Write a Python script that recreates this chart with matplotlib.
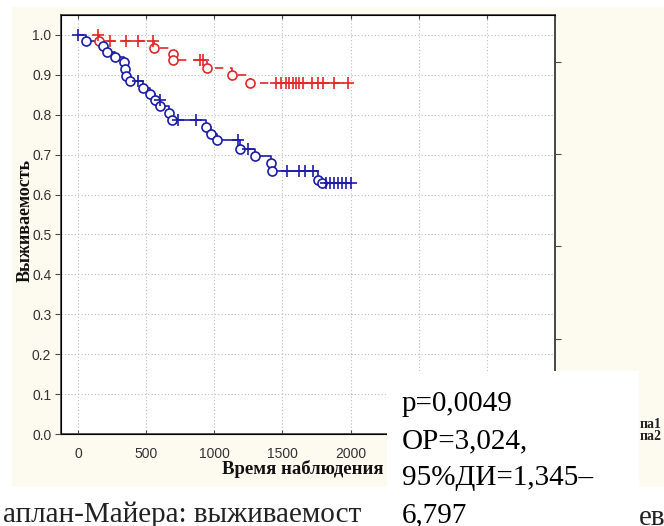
import matplotlib.pyplot as plt
from matplotlib.patches import Rectangle

# blue group: time, survival, censored flag (1 = "+", 0 = event circle)
blue_t = [0, 58, 181, 210, 270, 340, 348, 353, 380, 437, 478, 527, 564, 600, 605,
          668, 690, 730, 869, 942, 979, 1020, 1175, 1186, 1245, 1300, 1418, 1425,
          1535, 1620, 1665, 1723, 1760, 1790, 1820, 1850, 1880, 1910, 1940, 1970, 2000]
blue_s = [1.0, 0.986, 0.973, 0.957, 0.944, 0.931, 0.915, 0.898, 0.885, 0.885, 0.868,
          0.852, 0.838, 0.838, 0.821, 0.804, 0.786, 0.786, 0.786, 0.769, 0.752, 0.736,
          0.736, 0.715, 0.715, 0.696, 0.679, 0.658, 0.658, 0.658, 0.658, 0.658, 0.637,
          0.630, 0.630, 0.630, 0.630, 0.630, 0.630, 0.630, 0.630]
blue_c = [1, 0, 0, 0, 0, 0, 0, 0, 0, 1, 0, 0, 0, 1, 0, 0, 0, 1, 1, 0, 0, 0, 1, 0, 1, 0,
          0, 0, 1, 1, 1, 1, 0, 0, 1, 1, 1, 1, 1, 1, 1]

# red group
red_t = [144, 156, 234, 351, 441, 547, 556, 696, 700, 893, 916, 950, 1130, 1264,
         1450, 1486, 1523, 1547, 1575, 1601, 1625, 1650, 1718, 1760, 1801, 1877, 1984]
red_s = [1.0, 0.984, 0.984, 0.984, 0.984, 0.984, 0.968, 0.952, 0.9375, 0.9375, 0.9375,
         0.917, 0.9, 0.88, 0.88, 0.88, 0.88, 0.88, 0.88, 0.88, 0.88, 0.88, 0.88, 0.88,
         0.88, 0.88, 0.88]
red_c = [1, 0, 1, 1, 1, 1, 0, 0, 0, 1, 1, 0, 0, 0, 1, 1, 1, 1, 1, 1, 1, 1, 1, 1, 1, 1, 1]

x_ticks = [0, 500, 1000, 1500, 2000, 2500, 3000, 3500]
x_labels = ["0", "500", "1000", "1500", "2000", "", "", ""]  # rest hidden under the note
y_ticks = [0.0, 0.1, 0.2, 0.3, 0.4, 0.5, 0.6, 0.7, 0.8, 0.9, 1.0]
right_ticks = [0.2375, 0.47, 0.7025, 0.9325]

stats_lines = ["p=0,0049", "OP=3,024,", "95%ДИ=1,345–", "6,797"]
legend_lines = ["па1", "па2"]
caption_left = "аплан-Майера: выживаемост"
caption_right = "ев"

BLUE = '#1c1ca8'
RED = '#e02828'
W, H = 664, 526

fig = plt.figure(figsize=(6.64, 5.26), dpi=100)
fig.patch.set_facecolor('white')

# page background (pixel coords)
bg = fig.add_axes([0, 0, 1, 1], zorder=0)
bg.set_xlim(0, W)
bg.set_ylim(H, 0)
bg.axis('off')
bg.add_patch(Rectangle((12, 7), 652, 480, color='#fdfaf0', lw=0))

ax = fig.add_axes([61 / W, 1 - 434 / H, (555 - 61) / W, (434 - 15) / H], zorder=1)
ax.set_facecolor('white')
ax.set_xlim(-125, 3500)
ax.set_ylim(0, 1.05)


def km(t, s, c, color, ls):
    ax.plot(t, s, drawstyle='steps-post', color=color, lw=1.2, linestyle=ls, zorder=3)
    et = [a for a, f in zip(t, c) if f == 0]
    es = [b for b, f in zip(s, c) if f == 0]
    ct = [a for a, f in zip(t, c) if f == 1]
    cs = [b for b, f in zip(s, c) if f == 1]
    ax.plot(et, es, 'o', mfc='white', mec=color, mew=1.2, ms=6.5, ls='none', zorder=4)
    ax.plot(ct, cs, '+', color=color, mew=1.2, ms=9, ls='none', zorder=4)


km(red_t, red_s, red_c, RED, (0, (5, 4)))
km(blue_t, blue_s, blue_c, BLUE, '-')

ax.set_xticks(x_ticks)
ax.set_xticklabels(x_labels)
ax.set_yticks(y_ticks)
ax.set_yticklabels(['%.1f' % v for v in y_ticks])
ax.grid(True, color='#bdbdbd', lw=0.8, linestyle=(0, (1, 2)))
ax.set_axisbelow(True)
for sp in ax.spines.values():
    sp.set_color('#4a4a4a')
    sp.set_linewidth(1.3)
ax.tick_params(axis='x', direction='in', length=3, pad=9, labelsize=10,
               labelcolor='#333333', color='#4a4a4a', top=True)
ax.tick_params(axis='y', direction='out', length=4, pad=3, labelsize=10,
               labelcolor='#333333', color='#4a4a4a')
for lab in ax.get_xticklabels() + ax.get_yticklabels():
    lab.set_family('Liberation Sans')

ax2 = ax.twinx()
ax2.set_ylim(0, 1.05)
ax2.set_yticks(right_ticks)
ax2.set_yticklabels([])
ax2.tick_params(axis='y', direction='out', length=4, color='#4a4a4a')
ax2.spines['right'].set_color('#4a4a4a')
ax2.spines['right'].set_linewidth(1.3)

# axis titles, stats box, caption fragments (pixel coords)
ov = fig.add_axes([0, 0, 1, 1], zorder=5)
ov.set_xlim(0, W)
ov.set_ylim(H, 0)
ov.axis('off')
ov.patch.set_alpha(0)

ov.text(25, 220, "Выживаемость", rotation=90, ha='center', va='center',
        family='Liberation Serif', weight='bold', fontsize=13, color='#111111')
ov.text(383, 469, "Время наблюдения", ha='right', va='center',
        family='Liberation Serif', weight='bold', fontsize=13.5, color='#111111')

for i, txt in enumerate(legend_lines):
    ov.text(640, 424 + i * 12, txt, ha='left', va='center', family='Liberation Serif',
            weight='bold', fontsize=10, color='#222222')

ov.text(3, 522, caption_left, ha='left', va='baseline',
        family='Liberation Serif', fontsize=21, color='#222222')
ov.text(639, 525, caption_right, ha='left', va='baseline',
        family='Liberation Serif', fontsize=21, color='#222222')

ov.add_patch(Rectangle((387, 371), 252, 160, color='white', lw=0, zorder=6))
for i, txt in enumerate(stats_lines):
    ov.text(402, 411 + i * 37, txt, ha='left', va='baseline', family='Liberation Serif',
            fontsize=21, color='black', zorder=7)

fig.savefig('out.png', dpi=100)
